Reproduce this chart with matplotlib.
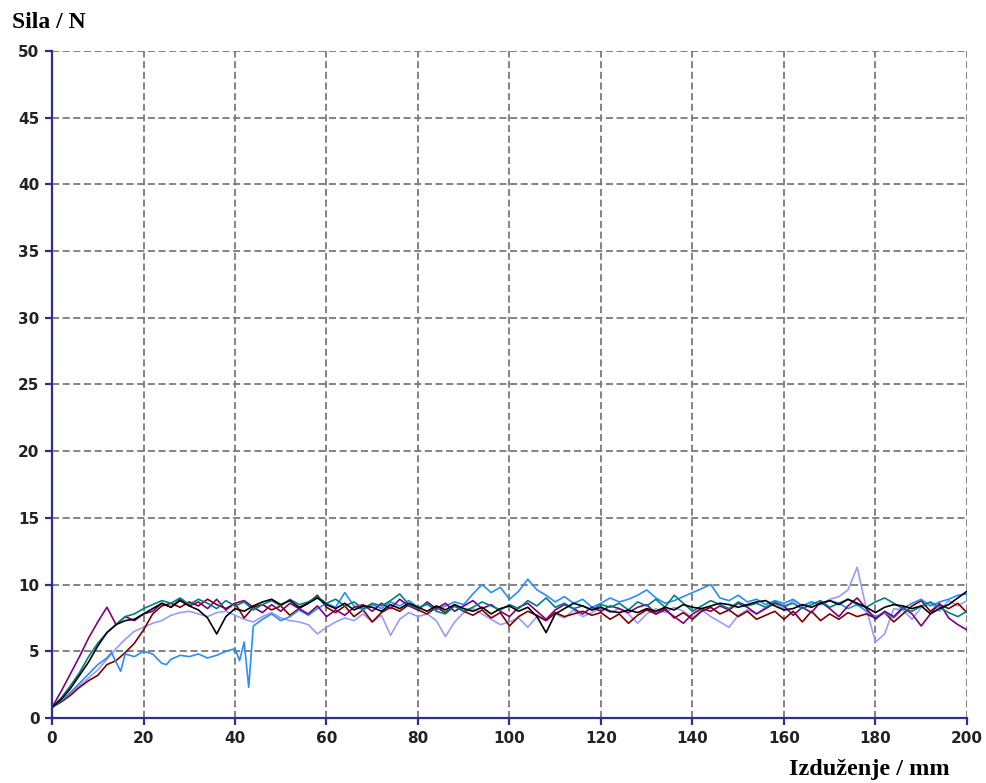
import matplotlib
matplotlib.use("Agg")
import matplotlib.pyplot as plt

# shared elongation grid (mm) for most specimens
X = list(range(0, 202, 2))

purple = [0.8, 2.0, 3.3, 4.6, 6.0, 7.2, 8.3, 7.0, 7.6, 7.3,
          7.8, 8.0, 8.6, 8.3, 8.9, 8.4, 8.7, 8.2, 8.9, 8.1,
          8.6, 8.8, 8.3, 7.9, 8.5, 8.0, 8.6, 8.2, 7.8, 8.4,
          7.6, 8.1, 7.7, 8.3, 8.5, 8.0, 8.6, 8.2, 8.9, 8.4,
          8.1, 8.7, 8.2, 8.6, 8.0, 8.4, 8.8, 8.2, 8.5, 8.0,
          7.6, 8.3, 8.6, 8.0, 7.4, 8.1, 8.5, 8.2, 7.8, 8.3,
          8.0, 8.4, 8.2, 7.9, 8.3, 8.5, 7.8, 8.1, 7.6, 7.1,
          7.8, 8.2, 8.0, 8.4, 8.1, 8.6, 8.3, 7.8, 8.2, 8.6,
          8.4, 7.7, 8.3, 7.9, 8.7, 8.2, 7.6, 8.4, 9.0, 8.2,
          7.4, 8.0, 7.6, 8.3, 7.8, 6.9, 7.8, 8.6, 7.5, 7.0,
          6.6]

black = [0.8, 1.4, 2.2, 3.2, 4.2, 5.4, 6.4, 7.0, 7.3, 7.4,
         7.8, 8.2, 8.6, 8.3, 8.8, 8.4, 8.1, 7.5, 6.3, 7.6,
         8.2, 8.0, 8.4, 8.7, 8.9, 8.5, 8.8, 8.3, 8.6, 9.0,
         8.5, 8.2, 8.6, 8.1, 8.4, 8.3, 8.0, 8.5, 8.2, 8.6,
         8.3, 8.0, 8.4, 8.1, 8.5, 8.2, 8.0, 8.3, 7.8, 8.2,
         8.4, 8.0, 8.3, 7.6, 6.4, 7.8, 8.2, 8.6, 8.4, 8.1,
         8.3, 8.0, 7.9, 8.1, 7.9, 8.2, 8.0, 8.3, 8.1, 8.5,
         8.3, 8.2, 8.4, 8.6, 8.5, 8.3, 8.5, 8.7, 8.8, 8.4,
         8.1, 8.2, 8.5, 8.3, 8.6, 8.8, 8.5, 8.9, 8.6, 8.3,
         7.9, 8.3, 8.5, 8.4, 8.2, 8.4, 7.8, 8.2, 8.5, 9.0,
         9.5]

teal = [0.8, 1.5, 2.4, 3.4, 4.6, 5.6, 6.4, 7.0, 7.6, 7.8,
        8.2, 8.5, 8.8, 8.6, 9.0, 8.5, 8.9, 8.6, 8.2, 8.8,
        8.4, 8.7, 8.1, 8.5, 8.8, 8.4, 8.9, 8.5, 8.7, 9.1,
        8.6, 8.9, 8.4, 8.7, 8.2, 8.6, 8.4, 8.8, 9.3, 8.5,
        8.2, 8.6, 8.0, 7.8, 8.4, 8.0, 8.3, 8.7, 8.4, 8.1,
        8.5, 8.2, 8.8, 8.4, 9.0, 8.3, 8.6, 8.2, 8.4, 8.1,
        8.5, 8.3, 8.6, 8.1, 8.7, 8.4, 8.9, 8.3, 9.2, 8.6,
        8.0, 8.4, 8.8, 8.5, 8.2, 8.7, 8.4, 8.6, 8.3, 8.7,
        8.4, 8.6, 8.2, 8.5, 8.8, 8.3, 8.6, 8.9, 8.5, 8.3,
        8.7, 9.0, 8.6, 8.2, 8.0, 8.4, 8.7, 8.3, 7.9, 7.6,
        8.0]

maroon = [0.8, 1.2, 1.7, 2.3, 2.8, 3.2, 4.0, 4.3, 4.9, 5.6,
          6.6, 7.8, 8.4, 8.6, 8.3, 8.7, 8.4, 8.9, 8.5, 8.2,
          8.6, 7.5, 8.3, 8.5, 8.1, 8.4, 7.7, 8.2, 8.6, 9.2,
          8.3, 7.9, 8.4, 7.6, 8.1, 7.2, 7.9, 8.3, 8.0, 8.5,
          8.1, 7.8, 8.3, 7.9, 8.4, 8.0, 7.7, 8.1, 7.5, 7.9,
          6.9, 7.6, 8.0, 7.7, 7.3, 7.9, 7.6, 7.8, 8.0, 7.7,
          7.9, 7.4, 7.8, 7.1, 7.7, 8.1, 7.8, 8.2, 7.5, 7.9,
          7.4, 8.0, 8.3, 7.8, 8.1, 7.6, 8.0, 7.4, 7.7, 8.0,
          7.4, 8.0, 7.2, 8.0, 7.3, 7.8, 7.4, 7.9, 7.6, 7.8,
          7.5, 7.9, 7.2, 7.8, 8.4, 8.8, 8.0, 8.5, 8.2, 8.6,
          7.9]

lavender = [0.8, 1.3, 1.9, 2.4, 3.0, 3.6, 4.4, 5.2, 5.9, 6.5,
            6.8, 7.1, 7.3, 7.7, 7.9, 8.0, 7.8, 7.6, 7.9, 8.0,
            7.7, 7.4, 7.2, 7.6, 7.9, 7.5, 7.3, 7.2, 7.0, 6.3,
            6.8, 7.2, 7.5, 7.3, 7.8, 7.2, 7.7, 6.2, 7.4, 7.9,
            7.6, 7.8, 7.3, 6.1, 7.2, 7.9, 8.2, 7.8, 7.4, 7.0,
            7.2, 7.5, 6.8, 7.6, 7.3, 7.8, 7.5, 8.1, 7.6, 7.9,
            8.3, 7.9, 8.2, 7.8, 7.1, 7.8, 8.2, 7.9, 8.3, 8.0,
            7.5, 8.1, 7.6, 7.2, 6.8, 7.7, 8.1, 7.8, 8.3, 8.6,
            8.2, 8.8, 8.4, 8.7, 8.5, 8.9, 9.1, 9.6, 11.3, 8.2,
            5.7, 6.3, 8.2, 8.1, 7.4, 8.3, 8.6, 8.0, 8.8, 8.4,
            8.8]

blue_x = [0, 2, 4, 6, 8, 10, 12, 13, 14, 15, 16, 18, 20, 22, 24, 25, 26, 28,
          30, 32, 34, 36, 38, 40, 41, 42, 43, 44] + list(range(46, 202, 2))
blue = [0.8, 1.3, 1.9, 2.6, 3.3, 4.0, 4.5, 4.9, 4.2, 3.5, 4.8, 4.6, 5.0, 4.8,
        4.1, 4.0, 4.4, 4.7, 4.6, 4.8, 4.5, 4.7, 5.0, 5.2, 4.3, 5.7, 2.3, 6.9,
        7.4, 7.8, 7.3, 7.6, 8.1, 7.7, 8.2, 8.6, 8.3, 9.4,
        8.4, 8.1, 8.5, 8.2, 8.7, 8.4, 8.8, 8.3, 8.5, 8.1,
        8.4, 8.7, 8.5, 9.3, 10.0, 9.4, 9.8, 8.9, 9.5, 10.4,
        9.6, 9.2, 8.7, 9.1, 8.6, 8.9, 8.3, 8.6, 9.0, 8.7,
        8.9, 9.2, 9.6, 9.0, 8.6, 8.8, 9.1, 9.4, 9.7, 10.0,
        9.0, 8.8, 9.2, 8.7, 8.9, 8.5, 8.8, 8.6, 8.9, 8.4,
        8.7, 8.5, 8.8, 8.6, 8.2, 8.5, 8.0, 7.6, 7.9, 7.5,
        8.2, 8.6, 8.9, 8.4, 8.7, 8.9, 9.2, 9.3]

x_ticks = list(range(0, 201, 20))
y_ticks = list(range(0, 51, 5))

navy = "#2e2e8f"

fig = plt.figure(figsize=(9.87, 7.83), dpi=100)
ax = fig.add_axes([0.0527, 0.083, 0.927, 0.852])

ax.plot(X, lavender, color="#9a9aff", lw=1.2)
ax.plot(X, maroon, color="#800000", lw=1.2)
ax.plot(blue_x, blue, color="#2b8cff", lw=1.2)
ax.plot(X, purple, color="#800080", lw=1.2)
ax.plot(X, teal, color="#008080", lw=1.2)
ax.plot(X, black, color="#000000", lw=1.2)

ax.set_xlim(0, 200)
ax.set_ylim(0, 50)
ax.set_xticks(x_ticks)
ax.set_yticks(y_ticks)
ax.grid(True, color="#7a7a7a", linestyle=(0, (3.9, 2.0)), lw=1.3)
ax.set_axisbelow(True)

for s in ["top", "right"]:
    ax.spines[s].set_visible(False)
for s in ["left", "bottom"]:
    ax.spines[s].set_color(navy)
    ax.spines[s].set_linewidth(1.6)

ax.tick_params(direction="out", length=5, width=1.6, color=navy, pad=4)
for lab in ax.get_xticklabels() + ax.get_yticklabels():
    lab.set_family("DejaVu Sans")
    lab.set_fontweight("bold")
    lab.set_fontsize(11)
    lab.set_color("#222222")

fig.text(12 / 987, 1 - 22 / 783, "Sila / N", family="Liberation Serif",
         fontweight="bold", fontsize=17, va="center", ha="left")
fig.text(950 / 987, 1 - 770 / 783, "Izduženje / mm", family="Liberation Serif",
         fontweight="bold", fontsize=17.5, va="center", ha="right")

fig.savefig("out.png", dpi=100)
